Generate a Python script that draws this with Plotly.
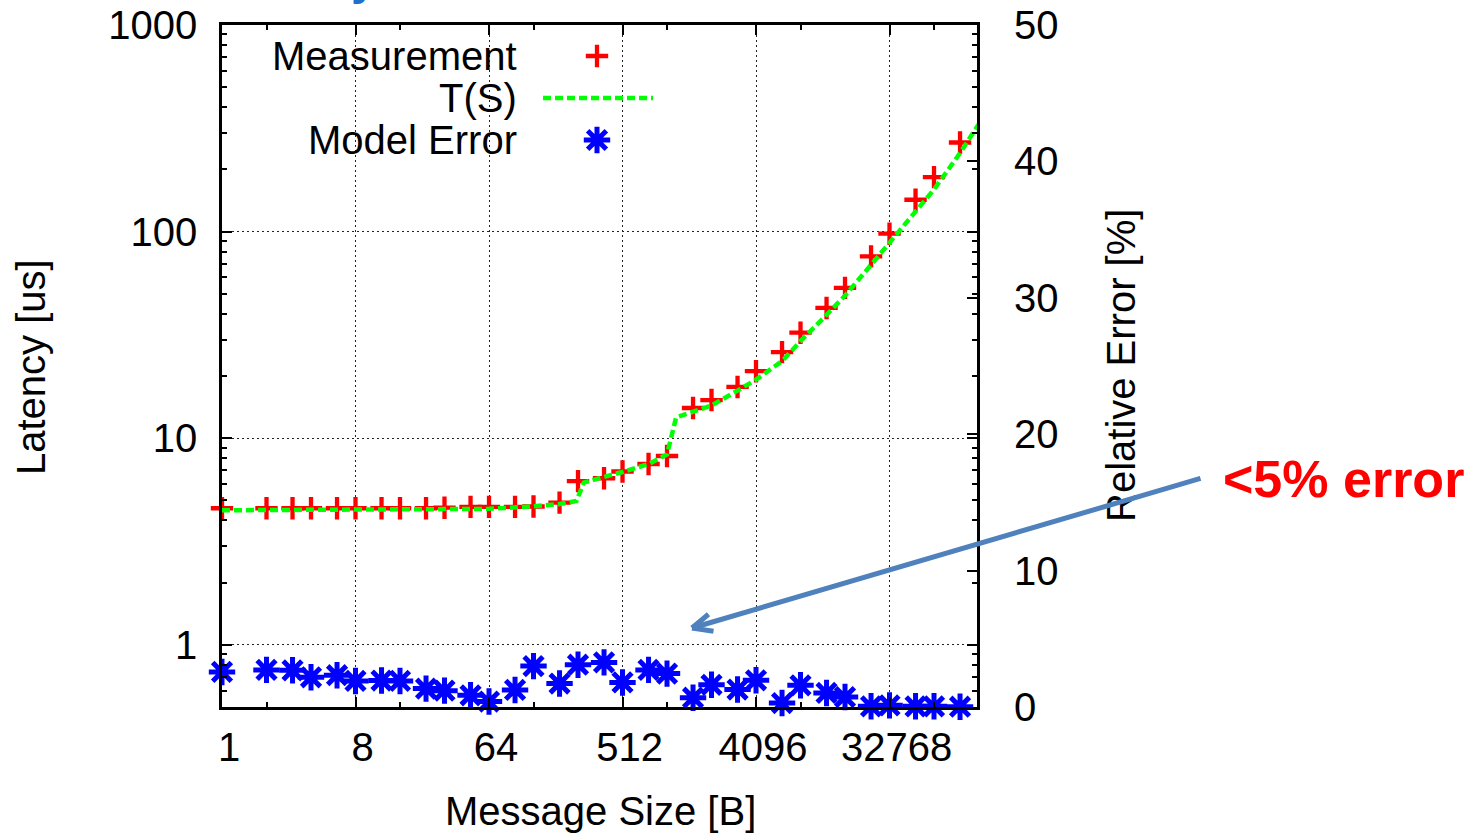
import numpy as np
import plotly.graph_objects as go

# ---- data -------------------------------------------------------------
# message sizes [B]
sizes = [1, 2, 3, 4, 6, 8, 12, 16, 24, 32, 48, 64, 96, 128, 192, 256, 384, 512,
         768, 1024, 1536, 2048, 3072, 4096, 6144, 8192, 12288, 16384, 24576,
         32768, 49152, 65536, 98304]
# measured latency [us]
latency = [4.58, 4.58, 4.58, 4.58, 4.58, 4.58, 4.58, 4.58, 4.58, 4.61, 4.65,
           4.65, 4.65, 4.67, 4.88, 6.2, 6.4, 6.9, 7.5, 8.2, 14.0, 15.3, 17.7,
           21.1, 26.1, 32.4, 42.7, 53.4, 75.9, 97.7, 142.6, 183.6, 270.0]
# relative model error [%]
model_error = [2.57, 2.72, 2.69, 2.18, 2.33, 1.91, 1.94, 1.91, 1.35, 1.2, 0.86,
               0.4, 1.25, 3.0, 1.72, 3.1, 3.27, 1.8, 2.72, 2.45, 0.68, 1.63,
               1.28, 1.96, 0.29, 1.59, 1.03, 0.73, 0.05, 0.12, 0.05, 0.05, 0.02]
# model curve T(S)
model_sizes = [1, 32, 64, 128, 192, 250, 280, 384, 512, 768, 1024, 1180, 1536,
               2048, 3072, 4096, 6144, 8192, 12288, 16384, 24576, 32768, 49152,
               65536, 98304, 131072]
model_latency = [4.48, 4.50, 4.55, 4.68, 4.80, 4.97, 6.1, 6.5, 6.86, 7.5, 8.35,
                 12.6, 13.4, 14.4, 17.0, 19.2, 23.6, 29.5, 39.5, 49.0, 69.0,
                 88.0, 125.0, 160.0, 240.0, 330.0]

x_ticks = [1, 8, 64, 512, 4096, 32768]
x_minor_ticks = [2, 16, 128, 1024, 8192, 65536]
y_ticks = [1, 10, 100, 1000]
y_minor_ticks = [m * 10.0 ** e for e in range(-1, 3) for m in range(2, 10)
                 if m * 10.0 ** e >= 0.5]
y2_ticks = [0, 10, 20, 30, 40, 50]

# ---- page geometry (pixels) -------------------------------------------
W, H = 1480, 834
L, R, T, B = 222, 977, 25, 707


def px(x):
    return (x - L) / (R - L)


def py(y):
    return (B - y) / (B - T)


FONT = "Liberation Sans, Arial, Helvetica, sans-serif"
BLACK = "#000000"

PLUS = dict(symbol="cross-thin", size=16, color="#FF0000",
            line=dict(width=4.3, color="#FF0000"))
STAR = dict(symbol="asterisk", size=22, color="#0000FF",
            line=dict(width=5, color="#0000FF"))
GREEN = dict(color="#00FF00", width=4.5, dash="8px,4px")

fig = go.Figure()

fig.add_trace(go.Scatter(
    x=sizes, y=latency, mode="markers", name="Measurement",
    marker=PLUS, cliponaxis=False, showlegend=False))

fig.add_trace(go.Scatter(
    x=model_sizes, y=model_latency, mode="lines", name="T(S)",
    line=GREEN, showlegend=False))

fig.add_trace(go.Scatter(
    x=sizes, y=model_error, mode="markers", name="Model Error", yaxis="y2",
    marker=STAR, cliponaxis=False, showlegend=False))

# key samples, drawn on a hidden unit-square overlay
key_x = [px(597)]
fig.add_trace(go.Scatter(
    x=key_x, y=[py(56)], mode="markers", xaxis="x3", yaxis="y3",
    marker=PLUS, cliponaxis=False, showlegend=False, hoverinfo="skip"))
fig.add_trace(go.Scatter(
    x=[px(543), px(653)], y=[py(98), py(98)], mode="lines", xaxis="x3", yaxis="y3",
    line=GREEN, cliponaxis=False, showlegend=False, hoverinfo="skip"))
fig.add_trace(go.Scatter(
    x=key_x, y=[py(140)], mode="markers", xaxis="x3", yaxis="y3",
    marker=STAR, cliponaxis=False, showlegend=False, hoverinfo="skip"))

tickfont = dict(family=FONT, size=40, color=BLACK)
grid = dict(showgrid=True, gridcolor="#222222", gridwidth=1, griddash="2px,3px")

fig.update_layout(
    width=W, height=H, autosize=False,
    margin=dict(l=L, r=W - R, t=T, b=H - B, pad=0),
    paper_bgcolor="white", plot_bgcolor="white",
    font=dict(family=FONT, size=40, color=BLACK),
    showlegend=False,
    xaxis=dict(
        type="log", range=[0, 16.966 * np.log10(2)], automargin=False,
        tickmode="array", tickvals=x_ticks, ticktext=[str(v) for v in x_ticks],
        ticks="inside", ticklen=10, tickwidth=1.5, tickcolor=BLACK,
        minor=dict(tickmode="array", tickvals=x_minor_ticks, ticks="inside",
                   ticklen=5, tickwidth=1.5, tickcolor=BLACK, showgrid=False),
        showline=True, linewidth=2.5, linecolor=BLACK, mirror="ticks",
        zeroline=False, tickfont=tickfont, ticklabelstandoff=3,
        ticklabelshift=7, **grid),
    yaxis=dict(
        type="log", range=[np.log10(0.5), 3], automargin=False,
        tickmode="array", tickvals=y_ticks, ticktext=[str(v) for v in y_ticks],
        ticks="inside", ticklen=10, tickwidth=1.5, tickcolor=BLACK,
        minor=dict(tickmode="array", tickvals=y_minor_ticks, ticks="inside",
                   ticklen=5, tickwidth=1.5, tickcolor=BLACK, showgrid=False),
        showline=True, linewidth=2.5, linecolor=BLACK, mirror="ticks",
        zeroline=False, tickfont=tickfont, ticklabelstandoff=14, **grid),
    yaxis2=dict(
        overlaying="y", side="right", range=[0, 50], automargin=False,
        tickmode="array", tickvals=y2_ticks, ticktext=[str(v) for v in y2_ticks],
        ticks="inside", ticklen=10, tickwidth=1.5, tickcolor=BLACK,
        showgrid=False, showline=False, zeroline=False,
        tickfont=tickfont, ticklabelstandoff=36),
    xaxis3=dict(overlaying="x", anchor="y3", range=[0, 1], visible=False),
    yaxis3=dict(overlaying="y", anchor="x3", range=[0, 1], visible=False),
)

# opaque key box hides the grid behind the key
fig.add_shape(type="rect", xref="paper", yref="paper", layer="between",
              x0=px(262), x1=px(664), y0=py(163), y1=py(27),
              fillcolor="white", line=dict(width=0))

annotations = []
for label, yc in [("Measurement", 56), ("T(S)", 98), ("Model Error", 140)]:
    annotations.append(dict(text=label, xref="paper", yref="paper",
                            x=px(519), y=py(yc), xanchor="right", yanchor="middle",
                            showarrow=False, font=dict(family=FONT, size=40, color=BLACK)))

annotations.append(dict(text="Latency [us]", xref="paper", yref="paper",
                        x=px(31), y=py(367), xanchor="center", yanchor="middle",
                        textangle=-90, showarrow=False,
                        font=dict(family=FONT, size=40, color=BLACK)))
annotations.append(dict(text="Relative Error [%]", xref="paper", yref="paper",
                        x=px(1121), y=py(366), xanchor="center", yanchor="middle",
                        textangle=-90, showarrow=False,
                        font=dict(family=FONT, size=40, color=BLACK)))
annotations.append(dict(text="Message Size [B]", xref="paper", yref="paper",
                        x=px(600), y=py(811), xanchor="center", yanchor="middle",
                        showarrow=False, font=dict(family=FONT, size=40, color=BLACK)))
annotations.append(dict(text="<b>&lt;5% error</b>", xref="paper", yref="paper",
                        x=px(1221), y=py(479), xanchor="left", yanchor="middle",
                        showarrow=False, font=dict(family=FONT, size=52, color="#FF0000")))
# title descender peeking in at the top edge
annotations.append(dict(text="<b>y</b>", xref="paper", yref="paper",
                        x=px(349), y=py(-23), xanchor="left", yanchor="middle",
                        showarrow=False, font=dict(family=FONT, size=48, color="#1F6FCC")))

# callout arrow: shaft plus an open head
ARROW = "#4F81BD"
tip = (692, 628)
for dx, dy, w in [(510, -150, 5), (18, -15, 5), (23, 3.5, 5)]:
    annotations.append(dict(text="", xref="paper", yref="paper",
                            x=px(tip[0]), y=py(tip[1]), ax=dx, ay=dy,
                            axref="pixel", ayref="pixel",
                            showarrow=True, arrowhead=0, arrowwidth=w,
                            arrowcolor=ARROW, standoff=0, startstandoff=0))

fig.update_layout(annotations=annotations)

fig.write_html("out.html")
